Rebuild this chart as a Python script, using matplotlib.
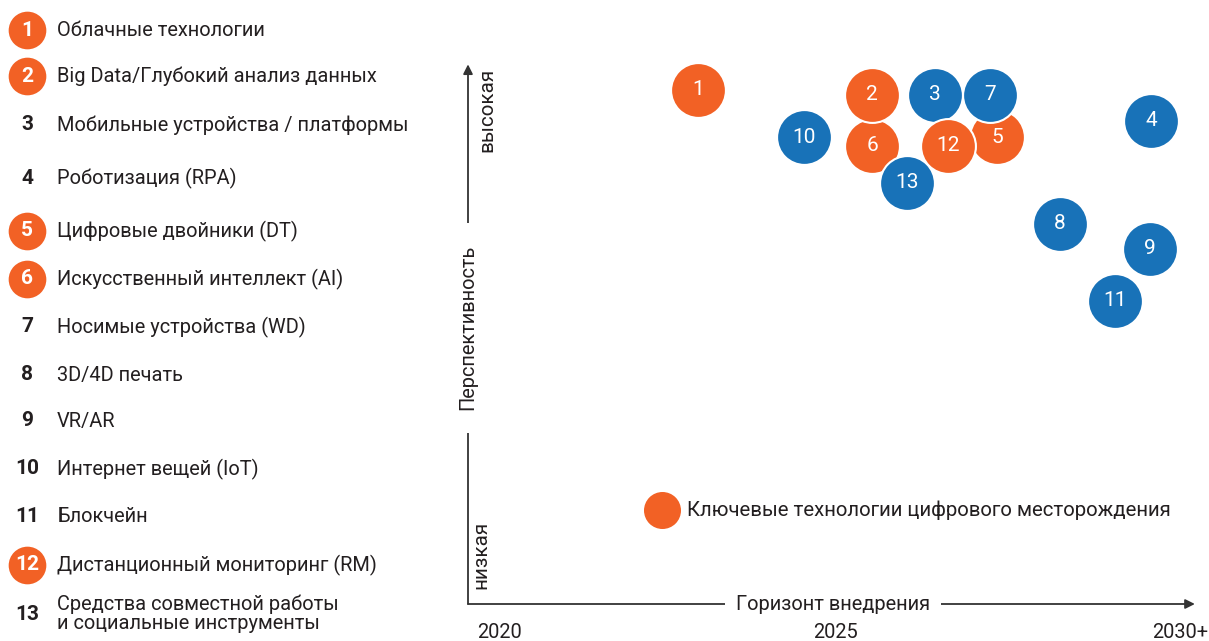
import matplotlib.pyplot as plt
from matplotlib import font_manager

# font: narrow face if present, otherwise Roboto a bit smaller
names = {f.name for f in font_manager.fontManager.ttflist}
if 'Liberation Sans Narrow' in names:
    FONT, k = 'Liberation Sans Narrow', 1.0
else:
    FONT, k = 'Roboto', 0.85
plt.rcParams['font.family'] = [FONT, 'DejaVu Sans']

# data
ids = list(range(1, 14))
names_ru = [
    'Облачные технологии',
    'Big Data/Глубокий анализ данных',
    'Мобильные устройства / платформы',
    'Роботизация (RPA)',
    'Цифровые двойники (DT)',
    'Искусственный интеллект (AI)',
    'Носимые устройства (WD)',
    '3D/4D печать',
    'VR/AR',
    'Интернет вещей (IoT)',
    'Блокчейн',
    'Дистанционный мониторинг (RM)',
    'Средства совместной работы\nи социальные инструменты',
]
is_key = [True, True, False, False, True, True, False, False, False, False, False, True, False]
horizon = [2022.95, 2025.54, 2026.47, 2029.69, 2027.40, 2025.54, 2027.29,
           2028.33, 2029.67, 2024.52, 2029.15, 2026.67, 2026.06]
perspective = [9.45, 9.36, 9.36, 8.88, 8.58, 8.42, 9.36,
               6.99, 6.53, 8.58, 5.57, 8.42, 7.74]
year_ticks = [2020, 2025, 2030]
year_labels = ['2020', '2025', '2030+']

ORANGE = '#F26125'
BLUE = '#1872B8'
DARK = '#231F20'

W, H = 1209, 641
fig = plt.figure(figsize=(W / 100, H / 100), dpi=100)

# ---- left legend (pixel coords)
leg = fig.add_axes([0, 0, 440 / W, 1])
leg.set_xlim(0, 440)
leg.set_ylim(H, 0)
leg.axis('off')
row_y = [30, 76, 125, 178, 231, 279, 327, 375, 421, 469, 517, 565, 614]
for i, n in enumerate(ids):
    y = row_y[i]
    if is_key[i]:
        leg.scatter([27], [y], s=735, color=ORANGE, linewidths=0, zorder=2)
        leg.text(27, y, str(n), color='white', fontsize=15, ha='center',
                 va='center', fontweight='bold', zorder=3)
    else:
        leg.text(27, y, str(n), color=DARK, fontsize=15, ha='center',
                 va='center', fontweight='bold')
    leg.text(57, y, names_ru[i], color=DARK, fontsize=17 * k, ha='left',
             va='center', linespacing=1.0)

# ---- matrix
ax = fig.add_axes([468 / W, (H - 604) / H, (1200 - 468) / W, (604 - 60) / H])
x0, x1 = 2020 + (468 - 500) / 67.2, 2020 + (1200 - 500) / 67.2
ax.set_xlim(x0, x1)
ax.set_ylim(0, 10)
ax.axis('off')

arrow = dict(arrowstyle='-|>', color='#333333', lw=1.3, mutation_scale=14,
             shrinkA=0, shrinkB=0)
ax.annotate('', xy=(x0, 9.92), xytext=(x0, 0), arrowprops=arrow, zorder=1)
ax.annotate('', xy=(2030.34, 0), xytext=(x0, 0), arrowprops=arrow, zorder=1)

ax.text(2024.95, 0, 'Горизонт внедрения', fontsize=17 * k, color=DARK,
        ha='center', va='center', zorder=2,
        bbox=dict(facecolor='white', edgecolor='none', pad=8))
ax.text(x0, 5.08, 'Перспективность', fontsize=17 * k, color=DARK,
        rotation=90, ha='center', va='center', zorder=2,
        bbox=dict(facecolor='white', edgecolor='none', pad=16))
ax.text(x0 + 0.28, 9.08, 'высокая', fontsize=17.5 * k, color=DARK,
        rotation=90, ha='center', va='center')
ax.text(x0 + 0.19, 0.9, 'низкая', fontsize=17.5 * k, color=DARK,
        rotation=90, ha='center', va='center')

for t, lab in zip(year_ticks, year_labels):
    ax.text(t + (0.12 if lab.endswith('+') else 0), -0.52, lab, fontsize=17 * k,
            color=DARK, ha='center', va='center', clip_on=False)

# bubbles, drawn so overlaps look like the reference
order = [5, 3, 6, 2, 12, 7, 13, 1, 10, 4, 8, 9, 11]
for n in order:
    i = n - 1
    c = ORANGE if is_key[i] else BLUE
    ax.scatter([horizon[i]], [perspective[i]], s=1560, color=c,
               edgecolors='white', linewidths=1.5, zorder=3 + order.index(n))
    ax.text(horizon[i], perspective[i], str(n), color='white', fontsize=15,
            ha='center', va='center', zorder=20)

# key marker
ax.scatter([2022.41], [1.73], s=710, color=ORANGE, linewidths=0, zorder=3)
ax.text(2022.78, 1.73, 'Ключевые технологии цифрового месторождения',
        fontsize=17.3 * k, color=DARK, ha='left', va='center')

fig.savefig('out.png', dpi=100)
